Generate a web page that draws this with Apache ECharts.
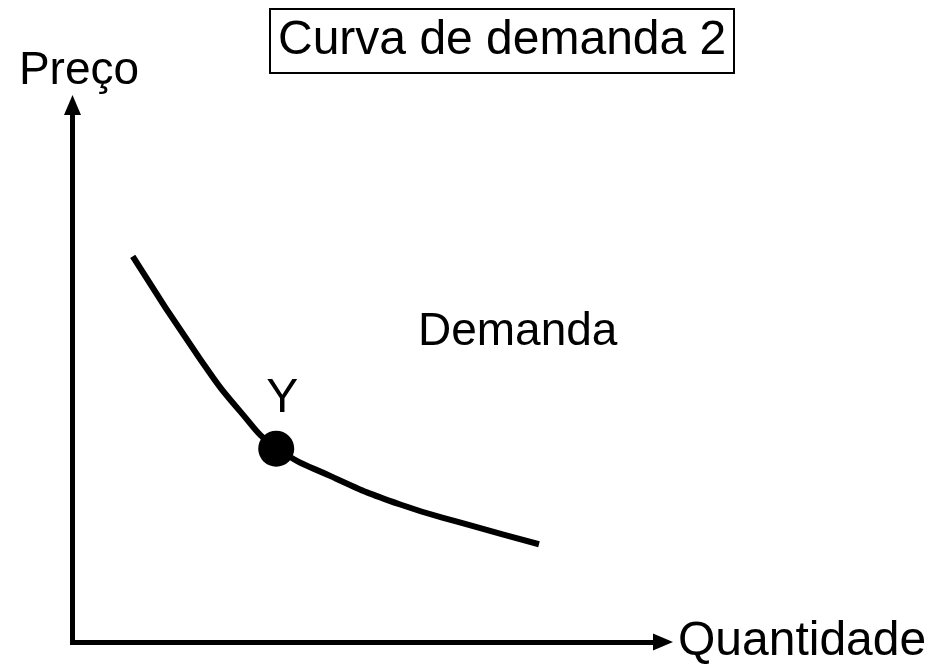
<!DOCTYPE html>
<html>
<head>
<meta charset="utf-8">
<script src="https://cdn.jsdelivr.net/npm/echarts@6/dist/echarts.min.js"></script>
<style>
html,body{margin:0;padding:0;background:#fff;}
#chart{width:930px;height:666px;}
</style>
</head>
<body>
<div id="chart"></div>
<script>
var titleText = 'Curva de demanda 2';
var xAxisName = 'Quantidade';
var yAxisName = 'Preço';
var curveLabel = 'Demanda';
var pointLabel = 'Y';
var demandX = [1.02, 2.16, 2.85, 3.45, 4.41, 5.55, 6.68, 7.90];
var demandY = [7.18, 5.27, 4.28, 3.62, 3.07, 2.56, 2.19, 1.82];
var pointX = [3.45];
var pointY = [3.60];

var FONT = '"Liberation Sans", Arial, Helvetica, sans-serif';
var chart = echarts.init(document.getElementById('chart'), null, {renderer: 'canvas'});

var curveData = demandX.map(function (x, i) { return [x, demandY[i]]; });
var pointData = pointX.map(function (x, i) { return [x, pointY[i]]; });

chart.setOption({
  animation: false,
  backgroundColor: '#ffffff',
  title: {
    text: titleText,
    left: 270,
    top: 9,
    padding: [8, 8, 8, 8],
    borderColor: '#000',
    borderWidth: 2,
    textStyle: {fontFamily: FONT, fontSize: 48, fontWeight: 'normal', color: '#000', lineHeight: 48}
  },
  grid: {left: 72.5, top: 105, right: 267, bottom: 15.5, containLabel: false},
  xAxis: {
    type: 'value', min: 0, max: 10,
    name: xAxisName,
    nameLocation: 'end',
    nameGap: 15,
    nameTextStyle: {fontFamily: FONT, fontSize: 48, color: '#000', verticalAlign: 'middle', padding: [0, 0, 18, 0]},
    axisLine: {show: true, symbol: ['none', 'triangle'], symbolSize: [17, 20], lineStyle: {color: '#000', width: 5, cap: 'square'}},
    axisTick: {show: false}, axisLabel: {show: false}, splitLine: {show: false}
  },
  yAxis: {
    type: 'value', min: 0, max: 10,
    name: yAxisName,
    nameLocation: 'end',
    nameGap: 11,
    nameTextStyle: {fontFamily: FONT, fontSize: 46, color: '#000', padding: [0, 0, 0, 13]},
    axisLine: {show: true, symbol: ['none', 'triangle'], symbolSize: [17, 20], lineStyle: {color: '#000', width: 5, cap: 'square'}},
    axisTick: {show: false}, axisLabel: {show: false}, splitLine: {show: false}
  },
  graphic: [{
    type: 'text',
    left: 418, top: 309,
    style: {text: curveLabel, font: '46px ' + FONT, fill: '#000'}
  }],
  series: [{
    type: 'line',
    data: curveData,
    smooth: 0.5,
    showSymbol: false,
    lineStyle: {color: '#000', width: 6, opacity: 1},
    z: 2
  }, {
    type: 'scatter',
    data: pointData,
    symbol: 'circle',
    symbolSize: 36,
    itemStyle: {color: '#000', opacity: 1},
    label: {
      show: true,
      formatter: pointLabel,
      position: 'top',
      distance: 8,
      offset: [6, 0],
      opacity: 1,
      fontFamily: FONT, fontSize: 48, color: '#000'
    },
    z: 3
  }]
});
</script>
</body>
</html>
